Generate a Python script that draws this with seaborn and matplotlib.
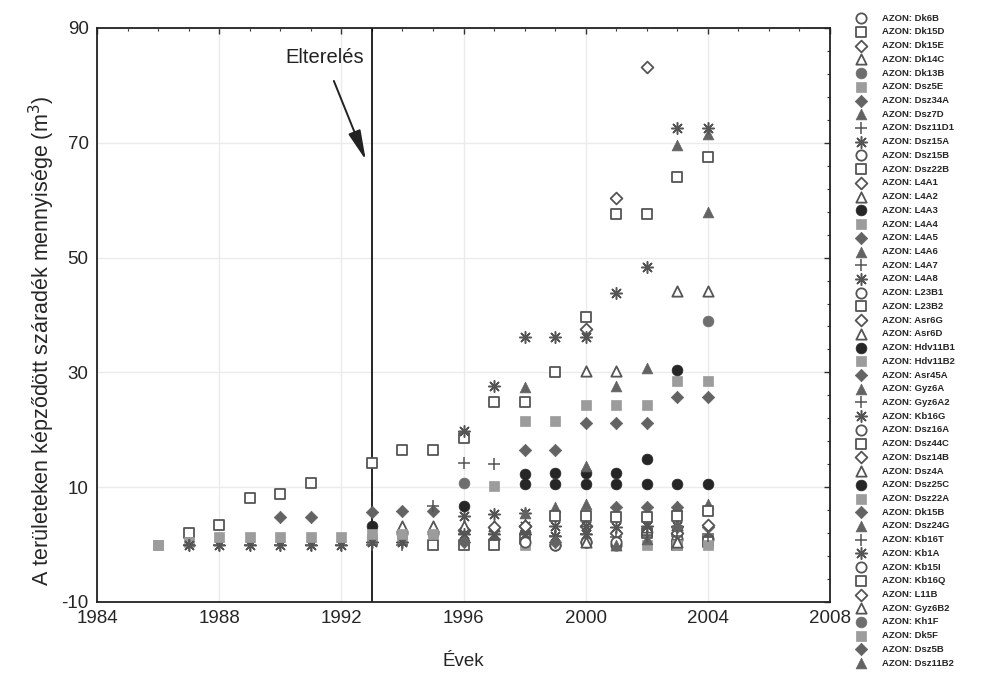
import numpy as np
import pandas as pd
import matplotlib
matplotlib.use("Agg")
import matplotlib.pyplot as plt
from matplotlib.ticker import FixedLocator, MultipleLocator
import seaborn as sns

# ---------------- data ----------------
azon = ["Dk6B", "Dk15D", "Dk15E", "Dk14C", "Dk13B", "Dsz5E", "Dsz34A", "Dsz7D", "Dsz11D1", "Dsz15A",
        "Dsz15B", "Dsz22B", "L4A1", "L4A2", "L4A3", "L4A4", "L4A5", "L4A6", "L4A7", "L4A8",
        "L23B1", "L23B2", "Asr6G", "Asr6D", "Hdv11B1", "Hdv11B2", "Asr45A", "Gyz6A", "Gyz6A2", "Kb16G",
        "Dsz16A", "Dsz44C", "Dsz14B", "Dsz4A", "Dsz25C", "Dsz22A", "Dk15B", "Dsz24G", "Kb16T", "Kb1A",
        "Kb15I", "Kb16Q", "L11B", "Gyz6B2", "Kh1F", "Dk5F", "Dsz5B", "Dsz11B2"]

evek = [
    [1999, 2000, 2001],                                                   # Dk6B
    [1987, 1988, 1989, 1990, 1991, 1993, 1994, 1995, 1996, 1997, 1998, 1999, 2000, 2001, 2002, 2003, 2004],  # Dk15D
    [1998, 2000, 2001, 2002],                                             # Dk15E
    [2000, 2001, 2003, 2004],                                             # Dk14C
    [1996],                                                               # Dk13B
    [1997, 1998, 1999, 2000, 2001, 2002, 2003, 2004],                     # Dsz5E
    [1990, 1991, 1993, 1994, 1995, 1998, 1999, 2000, 2001, 2002, 2003, 2004],  # Dsz34A
    [1998, 2001, 2002, 2003, 2004],                                       # Dsz7D
    [1995, 1996, 1997],                                                   # Dsz11D1
    [1996, 1997, 1998, 1999, 2000, 2001, 2002, 2003, 2004],               # Dsz15A
    [1994, 1995],                                                         # Dsz15B
    [1998, 2002],                                                         # Dsz22B
    [2000, 2001],                                                         # L4A1
    [1998, 2002],                                                         # L4A2
    [1998, 1999, 2000, 2001, 2002, 2003],                                 # L4A3
    [1986, 1987, 1998, 2002],                                             # L4A4
    [1997],                                                               # L4A5
    [2000, 2004],                                                         # L4A6
    [1996, 1997, 1998, 1999, 2000, 2001, 2002, 2003, 2004],               # L4A7
    [1998, 1999, 2000, 2001, 2002, 2003],                                 # L4A8
    [2003, 2004],                                                         # L23B1
    [2003, 2004],                                                         # L23B2
    [2003],                                                               # Asr6G
    [2003],                                                               # Asr6D
    [1998, 1999, 2000, 2001, 2002, 2003, 2004],                           # Hdv11B1
    [2003, 2004],                                                         # Hdv11B2
    [2003, 2004],                                                         # Asr45A
    [2001, 2002],                                                         # Gyz6A
    [2002, 2003, 2004],                                                   # Gyz6A2
    [1996, 1997, 1998],                                                   # Kb16G
    [1999, 2000],                                                         # Dsz16A
    [1995, 1996, 1997],                                                   # Dsz44C
    [1996],                                                               # Dsz14B
    [1994, 1995, 1996, 1997],                                             # Dsz4A
    [1993, 1996],                                                         # Dsz25C
    [1993, 1994],                                                         # Dsz22A
    [2001, 2002, 2003],                                                   # Dk15B
    [1998, 1999, 2000, 2003, 2004],                                       # Dsz24G
    [1987, 1988, 1989, 1990, 1991, 1992, 1993, 1994],                     # Kb16T
    [1987, 1988, 1989, 1990, 1991, 1992, 1993, 1994, 1996, 1997, 1998, 1999, 2000],  # Kb1A
    [1998, 2001],                                                         # Kb15I
    [1999, 2000, 2001, 2002, 2003, 2004],                                 # Kb16Q
    [1997, 1998, 2004],                                                   # L11B
    [2000, 2003],                                                         # Gyz6B2
    [2004],                                                               # Kh1F
    [1986, 1988, 1989, 1990, 1991, 1992, 1993, 1994, 1995],               # Dk5F
    [1996, 1999],                                                         # Dsz5B
    [2001],                                                               # Dsz11B2
]

mennyiseg = [
    [0.0, 0.5, 0.0],
    [2.0, 3.4, 8.1, 8.8, 10.7, 14.3, 16.4, 16.4, 18.6, 24.9, 24.9, 30.0, 39.6, 57.6, 57.6, 64.1, 67.6],
    [3.2, 37.5, 60.3, 83.2],
    [30.3, 30.3, 44.1, 44.1],
    [10.7],
    [10.2, 21.5, 21.5, 24.4, 24.4, 24.4, 28.5, 28.5],
    [4.8, 4.8, 5.6, 5.8, 5.8, 16.5, 16.5, 21.1, 21.1, 21.1, 25.8, 25.8],
    [27.4, 27.6, 30.7, 69.7, 71.5],
    [6.7, 14.3, 14.0],
    [19.8, 27.6, 36.1, 36.1, 36.1, 43.9, 48.4, 72.6, 72.6],
    [2.0, 2.0],
    [1.0, 2.0],
    [3.2, 2.0],
    [3.0, 3.0],
    [12.3, 12.4, 12.4, 12.4, 15.0, 30.5],
    [0.0, 0.5, 0.0, 0.0],
    [1.0],
    [13.7, 58.0],
    [1.8, 1.8, 1.8, 1.5, 1.8, 1.4, 1.6, 1.8, 1.8],
    [3.2, 3.2, 3.2, 3.0, 3.2, 3.2],
    [1.0, 1.0],
    [0.0, 0.5],
    [2.0],
    [3.5],
    [10.5, 10.5, 10.5, 10.5, 10.5, 10.5, 10.5],
    [0.0, 0.0],
    [3.0, 3.0],
    [0.0, 1.0],
    [1.5, 1.5, 1.5],
    [5.0, 5.3, 5.5],
    [0.0, 0.4],
    [0.0, 0.0, 0.0],
    [2.5],
    [3.2, 3.2, 3.2, 3.2],
    [3.2, 6.7],
    [1.0, 1.0],
    [6.5, 6.5, 6.5],
    [5.5, 6.5, 7.0, 6.8, 7.0],
    [0.0, 0.0, 0.0, 0.0, 0.0, 0.0, 0.0, 0.0],
    [0.0, 0.0, 0.0, 0.0, 0.0, 0.0, 0.4, 0.4, 1.8, 1.8, 1.8, 1.5, 1.8],
    [0.5, 0.5],
    [5.0, 5.0, 4.8, 4.8, 5.0, 5.8],
    [3.0, 3.2, 3.5],
    [0.4, 0.4],
    [39.0],
    [0.0, 1.4, 1.4, 1.4, 1.4, 1.4, 1.8, 1.8, 1.8],
    [0.5, 0.5],
    [0.0],
]

y_ticks = [-10, 10, 30, 50, 70, 90]
x_ticks = [1984, 1988, 1992, 1996, 2000, 2004, 2008]
elterelés_ev = 1993

# ---------------- style ----------------
sns.set_style("white")
plt.rcParams["font.family"] = ["Liberation Sans", "DejaVu Sans"]
plt.rcParams["axes.unicode_minus"] = False

fig = plt.figure(figsize=(9.87, 6.73), dpi=100)
ax = fig.add_axes([97 / 987, 71 / 673, (830 - 97) / 987, (602 - 28) / 673])

asterisk = (8, 2, 0)
marker_cycle = ["o", "s", "D", "^", "o", "s", "D", "^", "+", asterisk]
filled_cycle = [False, False, False, False, True, True, True, True, None, None]
size_cycle = [55, 50, 36, 55, 60, 52, 40, 60, 75, 70]
dark_circles = {"L4A3", "Hdv11B1", "Dsz25C"}

for i, (name, xs, ys) in enumerate(zip(azon, evek, mennyiseg)):
    k = i % 10
    mk = marker_cycle[k]
    df = pd.DataFrame({"ev": xs, "ertek": ys})
    label = f"AZON: {name}"
    if filled_cycle[k] is None:
        sns.scatterplot(data=df, x="ev", y="ertek", ax=ax, marker=mk, s=size_cycle[k],
                        color="#555555", edgecolor=None, linewidth=1.1, label=label, zorder=3)
    elif filled_cycle[k]:
        if mk == "o":
            fc = "#262626" if name in dark_circles else "#6e6e6e"
        elif mk == "s":
            fc = "#9c9c9c"
        else:
            fc = "#636363"
        sns.scatterplot(data=df, x="ev", y="ertek", ax=ax, marker=mk, s=size_cycle[k],
                        facecolor=fc, edgecolor=fc, linewidth=0.5, label=label, zorder=3)
    else:
        sns.scatterplot(data=df, x="ev", y="ertek", ax=ax, marker=mk, s=size_cycle[k],
                        facecolor="white", edgecolor="#555555", linewidth=1.3, label=label, zorder=3)

ax.axvline(elterelés_ev, color="black", lw=1.2, zorder=2)

ax.annotate("Elterelés", xy=(1992.8, 67.0), xytext=(1991.45, 84.8),
            ha="center", va="center", fontsize=14.5, color="#222222",
            arrowprops=dict(arrowstyle="-|>,head_length=1.3,head_width=0.28",
                            mutation_scale=14, color="#222222", lw=1.4,
                            shrinkA=8, shrinkB=0))

ax.set_xlim(1984, 2008)
ax.set_ylim(-10, 90)
ax.xaxis.set_major_locator(FixedLocator(x_ticks))
ax.xaxis.set_minor_locator(MultipleLocator(1))
ax.yaxis.set_major_locator(FixedLocator(y_ticks))
ax.yaxis.set_minor_locator(FixedLocator(np.arange(-10, 91, 4)))
ax.tick_params(which="both", direction="in", top=True, right=True, color="#333333")
ax.tick_params(which="major", length=4, width=1, labelsize=13.5, pad=6)
ax.tick_params(which="minor", length=2.5, width=0.8)

ax.grid(True, which="major", color="#ebebeb", lw=1.0, zorder=0)
for sp in ax.spines.values():
    sp.set_color("#222222")
    sp.set_linewidth(1.3)

ax.set_xlabel("Évek", fontsize=13.5)
ax.xaxis.set_label_coords(0.5, -0.088)
ax.set_ylabel("A területeken képződött száradék mennyisége (m$^3$)", fontsize=15.5)
ax.yaxis.set_label_coords(-0.055, 0.455)

handles, labels = ax.get_legend_handles_labels()
if ax.legend_ is not None:
    ax.legend_.remove()
fig.legend(handles, labels, loc="upper left", bbox_to_anchor=(851 / 987, 1 - 9 / 673),
           frameon=False, prop={"weight": "bold", "size": 6.8},
           labelspacing=0.50, handletextpad=1.6, markerscale=1.0, borderpad=0.0,
           handlelength=1.2)

fig.savefig("out.png", dpi=100)
